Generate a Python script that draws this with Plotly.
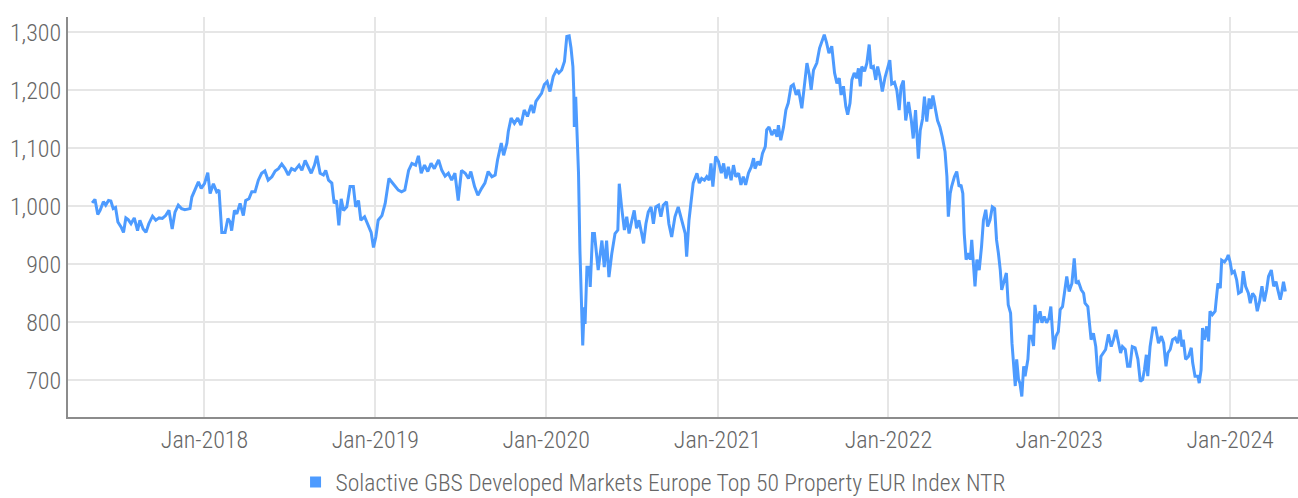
import datetime as dt
import plotly.graph_objects as go

# Index level (EUR, net total return), sampled through the history.
# Dates are stored as day offsets from BASE_DATE.
BASE_DATE = dt.date(2017, 5, 1)
SERIES_NAME = "Solactive GBS Developed Markets Europe Top 50 Property EUR Index NTR"

day_offsets = [
    5, 11, 17, 22, 29, 34, 40, 45, 50, 55, 60, 67, 72, 77, 82, 88, 95, 102, 107, 114,
    120, 126, 134, 141, 148, 155, 162, 169, 176, 182, 189, 196, 203, 214, 218, 225, 232, 238, 245, 252,
    257, 264, 271, 276, 282, 289, 295, 300, 303, 309, 314, 321, 328, 333, 340, 346, 353, 360, 367, 374,
    381, 389, 396, 403, 410,
    417, 424, 431, 438, 447, 453, 460, 467, 473, 480, 485, 492, 499, 504, 510, 517, 522, 527, 532, 537,
    542, 549, 556, 563, 568, 574, 579, 587, 594, 601, 606, 611, 616, 624, 631, 639, 645, 652, 659, 666,
    673, 681, 688, 696, 702, 708, 715, 722, 729, 736, 745, 752, 759, 766, 773, 780, 787, 794, 802, 809,
    814, 822, 829, 837,
    844, 851, 859, 866, 871, 879, 884, 891, 894, 900, 907, 914, 921, 928, 935, 943, 948, 953, 958, 965,
    971, 977, 983, 990, 997, 1002, 1008, 1014, 1019, 1024, 1028, 1032, 1034, 1035, 1038, 1040, 1044, 1047, 1051, 1053,
    1056, 1058, 1062, 1067, 1069, 1074, 1078, 1083, 1086, 1094, 1099, 1104, 1109, 1115, 1122, 1128, 1131, 1136, 1142, 1147,
    1152, 1158, 1163, 1168, 1173, 1179, 1183, 1188, 1193, 1199, 1204, 1209, 1215, 1220, 1225, 1232, 1237, 1243, 1250, 1257,
    1265, 1272, 1275, 1280,
    1289, 1297, 1302, 1307, 1313, 1318, 1323, 1327, 1331, 1337, 1343, 1349, 1354, 1359, 1364, 1370, 1375, 1380, 1386, 1391,
    1396, 1401, 1407, 1413, 1418, 1421, 1427, 1432, 1437, 1443, 1446, 1451, 1457, 1463, 1468, 1471, 1476, 1482, 1487, 1492,
    1498, 1503, 1509, 1514, 1521, 1527, 1532, 1537, 1541, 1546, 1553, 1559, 1564, 1569, 1574, 1579, 1585, 1591, 1596, 1601,
    1605, 1610, 1615, 1619, 1624, 1628, 1633, 1638, 1642, 1646, 1649, 1655, 1660, 1665, 1669, 1674, 1679, 1683, 1688, 1693,
    1699, 1705, 1709, 1713, 1719, 1724, 1729, 1733, 1738, 1743, 1749, 1755, 1759, 1764, 1770, 1774, 1779, 1783, 1788, 1793,
    1797, 1801, 1806, 1811, 1816, 1821, 1827, 1831, 1834, 1838, 1841, 1847, 1852, 1857, 1861, 1865, 1868, 1872, 1877, 1881,
    1884, 1888, 1891, 1895, 1900, 1905, 1909, 1914, 1918, 1923, 1928, 1933, 1937, 1941, 1945, 1948, 1954, 1958, 1962, 1967,
    1970, 1973, 1977, 1980, 1984, 1987, 1991, 1995, 1998, 2004, 2007, 2012, 2016, 2019, 2024, 2030, 2034, 2039, 2044, 2049,
    2053, 2059, 2064, 2069, 2073, 2078, 2083, 2087, 2092, 2098, 2103, 2107, 2112, 2118, 2123,
    2126, 2132, 2135, 2139, 2144, 2149, 2153, 2157, 2160, 2165, 2170, 2176, 2182, 2187, 2192, 2197, 2202, 2206, 2212, 2217,
    2222, 2227, 2233, 2239, 2244, 2249, 2253, 2257, 2260, 2265, 2271, 2277, 2283, 2289, 2294, 2299, 2303, 2308, 2313, 2319,
    2324, 2329, 2333, 2336, 2341, 2347, 2353, 2356, 2361, 2367, 2370, 2374, 2377, 2381, 2386, 2390, 2393, 2398, 2404, 2406,
    2410, 2415, 2418, 2424, 2429, 2432, 2436, 2440, 2445, 2450, 2454, 2460, 2464, 2469, 2475, 2479, 2484, 2489, 2494, 2499,
    2504, 2509, 2514, 2518, 2524, 2529, 2534, 2538, 2543, 2546, 2550, 2554,
]

index_level = [
    1006, 1012, 986, 993, 1008, 1002, 1010, 1009, 996, 998, 973, 964, 955, 980, 977, 970, 980, 958, 976, 961,
    955, 970, 983, 976, 980, 979, 984, 993, 961, 990, 1002, 996, 994, 996, 1016, 1028, 1042, 1031, 1039, 1058,
    1022, 1039, 1025, 1028, 955, 955, 979, 973, 958, 993, 987, 1005, 984, 1010, 1013, 1025, 1025, 1045, 1057, 1061,
    1045, 1051, 1061, 1065, 1073,
    1065, 1054, 1065, 1062, 1071, 1062, 1079, 1068, 1057, 1071, 1087, 1057, 1054, 1062, 1045, 1040, 1005, 1010, 967, 1013,
    993, 999, 1034, 1034, 999, 1010, 976, 982, 970, 955, 929, 947, 976, 984, 1005, 1048, 1042, 1034, 1028, 1025,
    1028, 1062, 1074, 1071, 1087, 1057, 1071, 1060, 1074, 1065, 1080, 1062, 1052, 1057, 1045, 1057, 1010, 1062, 1057, 1048,
    1060, 1034, 1019, 1031,
    1040, 1060, 1051, 1054, 1080, 1109, 1088, 1109, 1129, 1152, 1143, 1152, 1140, 1166, 1155, 1175, 1161, 1181, 1186, 1195,
    1210, 1215, 1198, 1224, 1235, 1230, 1235, 1250, 1293, 1294, 1273, 1241, 1195, 1137, 1189, 1137, 1057, 924, 832, 760,
    826, 797, 895, 895, 861, 953, 953, 907, 890, 941, 895, 941, 878, 918, 953, 959, 1039, 999, 959, 982,
    953, 976, 993, 962, 976, 953, 936, 970, 990, 999, 970, 999, 1002, 982, 1002, 1008, 970, 947, 982, 999,
    976, 953, 913, 976,
    1040, 1057, 1040, 1048, 1045, 1051, 1045, 1074, 1034, 1086, 1077, 1057, 1074, 1048, 1068, 1045, 1071, 1051, 1057, 1037,
    1051, 1037, 1057, 1068, 1083, 1065, 1077, 1071, 1091, 1103, 1132, 1137, 1123, 1132, 1120, 1140, 1114, 1137, 1166, 1178,
    1207, 1210, 1192, 1201, 1169, 1207, 1247, 1227, 1201, 1235, 1247, 1273, 1284, 1296, 1282, 1264, 1276, 1230, 1212, 1221,
    1192, 1207, 1172, 1158, 1178, 1218, 1230, 1221, 1238, 1207, 1241, 1233, 1247, 1279, 1238, 1241, 1218, 1241, 1224, 1198,
    1223, 1240, 1252, 1211, 1214, 1200, 1166, 1206, 1217, 1148, 1180, 1148, 1117, 1166, 1082, 1131, 1151, 1189, 1146, 1186,
    1168, 1191, 1166, 1148, 1137, 1120, 1094, 1051, 982, 1022, 1034, 1051, 1060, 1034, 1037, 1022, 953, 908, 919, 908,
    942, 885, 862, 908, 890, 931, 976, 994, 965, 976, 999, 996, 942, 919, 890, 856, 873, 885, 830, 816,
    764, 724, 690, 736, 701, 695, 672, 724, 707, 736, 776, 776, 759, 830, 799, 819, 799, 810, 799, 807,
    827, 753, 776, 784, 822, 827, 862, 879, 853, 867, 910, 867, 870, 856, 850,
    833, 827, 807, 770, 781, 758, 713, 698, 741, 747, 753, 779, 758, 770, 787, 767, 747, 758, 753, 724,
    724, 758, 756, 736, 698, 701, 718, 744, 707, 758, 790, 790, 764, 776, 764, 724, 747, 753, 770, 773,
    764, 787, 758, 770, 736, 741, 756, 730, 707, 707, 695, 718, 790, 770, 793, 767, 819, 813, 819, 836,
    867, 859, 907, 904, 910, 916, 904, 885, 888, 873, 850, 853, 888, 862, 850, 833, 850, 844, 819, 836,
    862, 836, 856, 879, 890, 862, 870, 856, 839, 850, 870, 853,
]

y_ticks = [700, 800, 900, 1000, 1100, 1200, 1300]

dates = [BASE_DATE + dt.timedelta(days=d) for d in day_offsets]

LINE_COLOR = "#4d9bff"
TEXT_COLOR = "#666666"
GRID_COLOR = "#e6e6e6"
AXIS_COLOR = "#8c8c8c"
FONT = "Roboto Condensed, Liberation Sans Narrow, DejaVu Sans Condensed, sans-serif"
TEXT_FONT = dict(family=FONT, size=24, color=TEXT_COLOR, weight=300)

fig = go.Figure()
fig.add_trace(go.Scatter(
    x=dates, y=index_level, mode="lines", name=SERIES_NAME,
    line=dict(color=LINE_COLOR, width=3), showlegend=False,
))
# legend entry drawn as a square swatch
fig.add_trace(go.Scatter(
    x=[None], y=[None], mode="markers", name=SERIES_NAME,
    marker=dict(symbol="square", size=11, color=LINE_COLOR),
))

fig.update_layout(
    width=1298, height=498,
    margin=dict(l=68, r=0, t=17, b=81, autoexpand=False),
    paper_bgcolor="white", plot_bgcolor="white",
    font=TEXT_FONT,
    legend=dict(
        orientation="h", x=0.185, xanchor="left",
        yref="container", y=0.032, yanchor="middle",
        font=dict(TEXT_FONT, size=23.6), itemwidth=30,
        bgcolor="rgba(0,0,0,0)",
    ),
)
fig.update_xaxes(
    range=["2017-03-15 10:00", "2024-05-25"],
    tickformat="%b-%Y", dtick="M12", tick0="2018-01-01",
    showgrid=True, gridcolor=GRID_COLOR, gridwidth=2,
    showline=True, linecolor=AXIS_COLOR, linewidth=2,
    ticks="", tickfont=TEXT_FONT,
    zeroline=False, automargin=False,
)
fig.update_yaxes(
    range=[636.6, 1326.5],
    tickvals=y_ticks, tickformat=",d",
    showgrid=True, gridcolor=GRID_COLOR, gridwidth=2,
    showline=True, linecolor=AXIS_COLOR, linewidth=2,
    ticks="", tickfont=TEXT_FONT,
    zeroline=False, automargin=False,
)

fig.write_html("out.html")
